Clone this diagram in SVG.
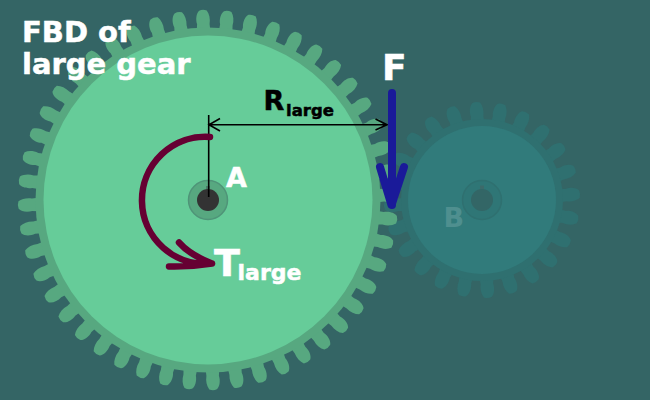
<svg xmlns="http://www.w3.org/2000/svg" xmlns:xlink="http://www.w3.org/1999/xlink" width="650" height="400" viewBox="0 0 650 400">
<style>
text{font-family:"DejaVu Sans",Verdana,sans-serif;font-weight:bold;stroke-width:.5}
.w{fill:#fff;stroke:#fff}
.k{fill:#000;stroke:#000}
.big{fill:#57a880}
.sm{fill:#2f7070}
.thin{fill:none;stroke:#000;stroke-width:1.6}
.tq{fill:none;stroke:#660033;stroke-width:6.5;stroke-linecap:round;stroke-linejoin:round}
.fa{fill:none;stroke:#1a1a99;stroke-width:8;stroke-linecap:round;stroke-linejoin:round}
</style>
<defs>
<path id="tb" class="big" d="M-6.500 -170L-6 -176C-7.500 -181 -6.500 -187 -3.500 -189.500Q0 -191 4 -189.500C6.500 -186 7.500 -181 6.500 -176L7 -170Z"/>
<path id="ts" class="sm" d="M-6.500 -79L-6 -84C-7.500 -89 -6.500 -95 -3.500 -97.500Q0 -99 4 -97.500C6.500 -94 7.500 -89 6.500 -84L7 -79Z"/>
</defs>
<rect width="650" height="400" fill="#346565"/>
<g id="gear-b">
<g transform="translate(482,200) rotate(-3.5)">
<use href="#ts"/><use href="#ts" transform="rotate(15)"/><use href="#ts" transform="rotate(30)"/><use href="#ts" transform="rotate(45)"/><use href="#ts" transform="rotate(60)"/><use href="#ts" transform="rotate(75)"/><use href="#ts" transform="rotate(90)"/><use href="#ts" transform="rotate(105)"/><use href="#ts" transform="rotate(120)"/><use href="#ts" transform="rotate(135)"/><use href="#ts" transform="rotate(150)"/><use href="#ts" transform="rotate(165)"/><use href="#ts" transform="rotate(180)"/><use href="#ts" transform="rotate(195)"/><use href="#ts" transform="rotate(210)"/><use href="#ts" transform="rotate(225)"/><use href="#ts" transform="rotate(240)"/><use href="#ts" transform="rotate(255)"/><use href="#ts" transform="rotate(270)"/><use href="#ts" transform="rotate(285)"/><use href="#ts" transform="rotate(300)"/><use href="#ts" transform="rotate(315)"/><use href="#ts" transform="rotate(330)"/><use href="#ts" transform="rotate(345)"/>
</g>
<circle cx="482" cy="200" r="81" fill="#2f7070"/>
<circle cx="482" cy="200" r="74" fill="#317b7b"/>
<circle cx="482" cy="200" r="19.500" fill="#2f7676" stroke="#2f7070" stroke-width="1.500"/>
<rect x="480" y="185.500" width="4" height="4" fill="#3c6a6a"/>
<circle cx="482" cy="200" r="11" fill="#336666"/>
<text x="443.500" y="227" font-size="27" fill="#4f8f8f">B</text>
</g>
<g id="gear-a">
<g transform="translate(208,200) rotate(-1.6)">
<use href="#tb"/><use href="#tb" transform="rotate(7.500)"/><use href="#tb" transform="rotate(15)"/><use href="#tb" transform="rotate(22.500)"/><use href="#tb" transform="rotate(30)"/><use href="#tb" transform="rotate(37.500)"/><use href="#tb" transform="rotate(45)"/><use href="#tb" transform="rotate(52.500)"/><use href="#tb" transform="rotate(60)"/><use href="#tb" transform="rotate(67.500)"/><use href="#tb" transform="rotate(75)"/><use href="#tb" transform="rotate(82.500)"/><use href="#tb" transform="rotate(90)"/><use href="#tb" transform="rotate(97.500)"/><use href="#tb" transform="rotate(105)"/><use href="#tb" transform="rotate(112.500)"/><use href="#tb" transform="rotate(120)"/><use href="#tb" transform="rotate(127.500)"/><use href="#tb" transform="rotate(135)"/><use href="#tb" transform="rotate(142.500)"/><use href="#tb" transform="rotate(150)"/><use href="#tb" transform="rotate(157.500)"/><use href="#tb" transform="rotate(165)"/><use href="#tb" transform="rotate(172.500)"/><use href="#tb" transform="rotate(180)"/><use href="#tb" transform="rotate(187.500)"/><use href="#tb" transform="rotate(195)"/><use href="#tb" transform="rotate(202.500)"/><use href="#tb" transform="rotate(210)"/><use href="#tb" transform="rotate(217.500)"/><use href="#tb" transform="rotate(225)"/><use href="#tb" transform="rotate(232.500)"/><use href="#tb" transform="rotate(240)"/><use href="#tb" transform="rotate(247.500)"/><use href="#tb" transform="rotate(255)"/><use href="#tb" transform="rotate(262.500)"/><use href="#tb" transform="rotate(270)"/><use href="#tb" transform="rotate(277.500)"/><use href="#tb" transform="rotate(285)"/><use href="#tb" transform="rotate(292.500)"/><use href="#tb" transform="rotate(300)"/><use href="#tb" transform="rotate(307.500)"/><use href="#tb" transform="rotate(315)"/><use href="#tb" transform="rotate(322.500)"/><use href="#tb" transform="rotate(330)"/><use href="#tb" transform="rotate(337.500)"/><use href="#tb" transform="rotate(345)"/><use href="#tb" transform="rotate(352.500)"/>
</g>
<circle cx="208" cy="200" r="172.500" fill="#57a880"/>
<circle cx="208" cy="200" r="164.500" fill="#66cc99"/>
<circle cx="208" cy="200" r="19.500" fill="#57a880" stroke="#4f9478" stroke-width="1.500"/>
<rect x="206" y="186" width="4" height="4" fill="#4a7a68"/>
<circle cx="208" cy="200" r="11" fill="#333333"/>
<text x="226" y="187" font-size="27" class="w">A</text>
</g>
<g id="connectors">
<path class="thin" d="M208.700 115V197M209 124.700H387M220 118.500L209 124.700L220 131M375.500 119L387 124.700L375.500 130"/>
<path class="tq" d="M210 137A63.500 63.500 0 1 0 212 263.500M179 242.500Q190 255 212 263.500Q190 267 169 266.500"/>
<path class="fa" d="M392 93V205M380 167L391.500 205L404 167"/>
</g>
<g id="labels">
<text x="22" y="42" font-size="29" class="w">FBD of</text>
<text x="22" y="74" font-size="29" class="w">large gear</text>
<text x="382" y="80" font-size="36" class="w">F</text>
<text x="263.500" y="110" font-size="27" class="k">R</text>
<text x="286" y="116" font-size="16.500" class="k">large</text>
<text x="214" y="276" font-size="38" class="w">T</text>
<text x="237.500" y="280" font-size="22" class="w">large</text>
</g>
</svg>
